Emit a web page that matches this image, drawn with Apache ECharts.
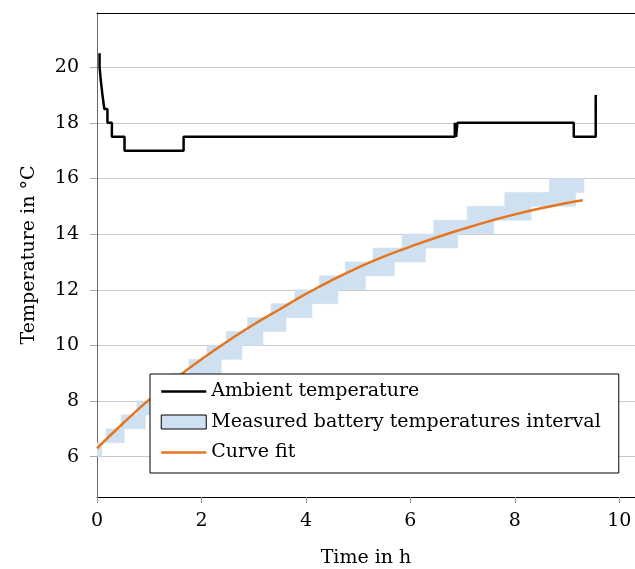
<!DOCTYPE html>
<html>
<head>
<meta charset="utf-8">
<script src="https://cdn.jsdelivr.net/npm/echarts@6/dist/echarts.min.js"></script>
<style>
html,body{margin:0;padding:0;background:#fff;}
#chart{width:635px;height:569px;}
</style>
</head>
<body>
<div id="chart"></div>
<script>
// Ambient temperature (step function)
const ambientTimes = [0.049, 0.049, 0.074, 0.105, 0.14, 0.2, 0.285, 0.527, 1.658, 6.85, 6.875, 6.9, 9.128, 9.548];
const ambientTemps = [20.5, 20.0, 19.5, 19.0, 18.5, 18.0, 17.5, 17.0, 17.5, 18.0, 17.5, 18.0, 17.5, 19.0];

// Measured battery temperature interval: upper and lower step bounds
const upperTimes = [0, 0.176, 0.464, 0.764, 1.083, 1.415, 1.760, 2.105, 2.475, 2.884, 3.331, 3.784, 4.257, 4.755, 5.285, 5.840, 6.447, 7.086, 7.807, 8.663];
const upperTemps = [6.5, 7.0, 7.5, 8.0, 8.5, 9.0, 9.5, 10.0, 10.5, 11.0, 11.5, 12.0, 12.5, 13.0, 13.5, 14.0, 14.5, 15.0, 15.5, 16.0];
const lowerTimes = [0, 0.093, 0.521, 0.923, 1.275, 1.639, 1.996, 2.379, 2.775, 3.178, 3.618, 4.116, 4.614, 5.138, 5.693, 6.287, 6.907, 7.596, 8.312, 9.161];
const lowerTemps = [6.0, 6.5, 7.0, 7.5, 8.0, 8.5, 9.0, 9.5, 10.0, 10.5, 11.0, 11.5, 12.0, 12.5, 13.0, 13.5, 14.0, 14.5, 15.0, 15.5];
const bandEnd = 9.321;

// Curve fit
const fitTimes = [0, 0.5, 1, 1.5, 2, 2.5, 3, 3.5, 4, 4.5, 5, 5.5, 6, 6.5, 7, 7.5, 8, 8.5, 9, 9.3];
const fitTemps = [6.3, 7.2, 8.05, 8.8, 9.5, 10.15, 10.75, 11.3, 11.85, 12.35, 12.8, 13.2, 13.55, 13.88, 14.18, 14.46, 14.71, 14.93, 15.12, 15.22];

// Axis ticks
const xTicks = [0, 2, 4, 6, 8, 10];
const yTicks = [6, 8, 10, 12, 14, 16, 18, 20];

const NAMES = ['Ambient temperature', 'Measured battery temperatures interval', 'Curve fit'];
const bandColor = '#cfe0f1';
const fitColor = '#e5751f';
const FONT = 'DejaVu Serif';
const FS = 19;

function stepAt(ts, vs, t) {
  let v = vs[0];
  for (let i = 0; i < ts.length; i++) if (ts[i] <= t + 1e-9) v = vs[i];
  return v;
}
const allT = Array.from(new Set(upperTimes.concat(lowerTimes))).sort((a, b) => a - b);
const bandSegs = [];
for (let i = 0; i < allT.length; i++) {
  const t0 = allT[i];
  const t1 = i + 1 < allT.length ? allT[i + 1] : bandEnd;
  const U = stepAt(upperTimes, upperTemps, t0);
  const L = stepAt(lowerTimes, lowerTemps, t0);
  if (U > L && t1 > t0) bandSegs.push([t0, t1, L, U]);
}

const chart = echarts.init(document.getElementById('chart'), null, {renderer: 'canvas'});
chart.setOption({
  animation: false,
  backgroundColor: '#fff',
  textStyle: {fontFamily: FONT},
  grid: {left: 97, right: 0, top: 13, bottom: 72, containLabel: false, outerBoundsMode: 'none'},
  xAxis: [{
    type: 'value', min: 0, max: 10.3, interval: 2,
    name: 'Time in h', nameLocation: 'middle', nameGap: 52,
    nameTextStyle: {fontFamily: FONT, fontSize: FS, color: '#000'},
    axisLine: {show: true, onZero: false, lineStyle: {color: '#000', width: 1}},
    axisTick: {show: true, inside: false, length: 6, lineStyle: {color: '#999'}},
    axisLabel: {fontFamily: FONT, fontSize: FS, color: '#000', margin: 15,
      formatter: v => (xTicks.indexOf(v) >= 0 ? String(v) : '')},
    splitLine: {show: false}
  }, {
    type: 'value', min: 0, max: 10.3, position: 'top',
    axisLine: {show: true, onZero: false, lineStyle: {color: '#000', width: 1}},
    axisTick: {show: false}, axisLabel: {show: false}, splitLine: {show: false}
  }],
  yAxis: {
    type: 'value', min: 4.55, max: 21.95,
    name: 'Temperature in °C', nameLocation: 'middle', nameGap: 58, nameRotate: 90,
    nameTextStyle: {fontFamily: FONT, fontSize: FS, color: '#000'},
    axisLine: {show: true, onZero: false, lineStyle: {color: '#666', width: 1}},
    axisTick: {show: true, inside: false, length: 7, lineStyle: {color: '#aaa'}, customValues: yTicks},
    axisLabel: {fontFamily: FONT, fontSize: FS, color: '#000', margin: 18, customValues: yTicks},
    splitLine: {show: true, lineStyle: {color: '#c8c8c8', width: 1}}
  },
  legend: {
    orient: 'vertical', left: 150, top: 374,
    padding: [8, 18, 11, 10],
    itemGap: 11.5, itemWidth: 45, itemHeight: 14, itemTextGap: 8,
    backgroundColor: '#fff', borderColor: '#000', borderWidth: 1, borderRadius: 0,
    textStyle: {fontFamily: FONT, fontSize: FS, color: '#000'},
    data: [
      {name: NAMES[0], itemStyle: {opacity: 0}, lineStyle: {width: 2.5, color: '#000'}},
      {name: NAMES[1], icon: 'rect', itemStyle: {color: bandColor, borderColor: '#000', borderWidth: 1}},
      {name: NAMES[2], itemStyle: {opacity: 0}, lineStyle: {width: 2.5, color: fitColor}}
    ]
  },
  series: [
    {
      name: NAMES[1], type: 'custom', z: 1,
      itemStyle: {color: bandColor},
      encode: {x: [0, 1], y: [2, 3]},
      data: bandSegs,
      clip: true,
      renderItem: function (params, api) {
        const p0 = api.coord([api.value(0), api.value(3)]);
        const p1 = api.coord([api.value(1), api.value(2)]);
        return {
          type: 'rect',
          shape: {x: p0[0], y: p0[1], width: p1[0] - p0[0], height: p1[1] - p0[1]},
          style: {fill: bandColor, stroke: bandColor, lineWidth: 0.6}
        };
      }
    },
    {
      name: NAMES[0], type: 'line', step: 'end', symbol: 'none', z: 3,
      lineStyle: {color: '#000', width: 2.5}, itemStyle: {color: '#000'},
      data: ambientTimes.map((t, i) => [t, ambientTemps[i]])
    },
    {
      name: NAMES[2], type: 'line', smooth: 0.5, symbol: 'none', z: 3,
      lineStyle: {color: fitColor, width: 2.5}, itemStyle: {color: fitColor},
      data: fitTimes.map((t, i) => [t, fitTemps[i]])
    }
  ]
});
</script>
</body>
</html>
